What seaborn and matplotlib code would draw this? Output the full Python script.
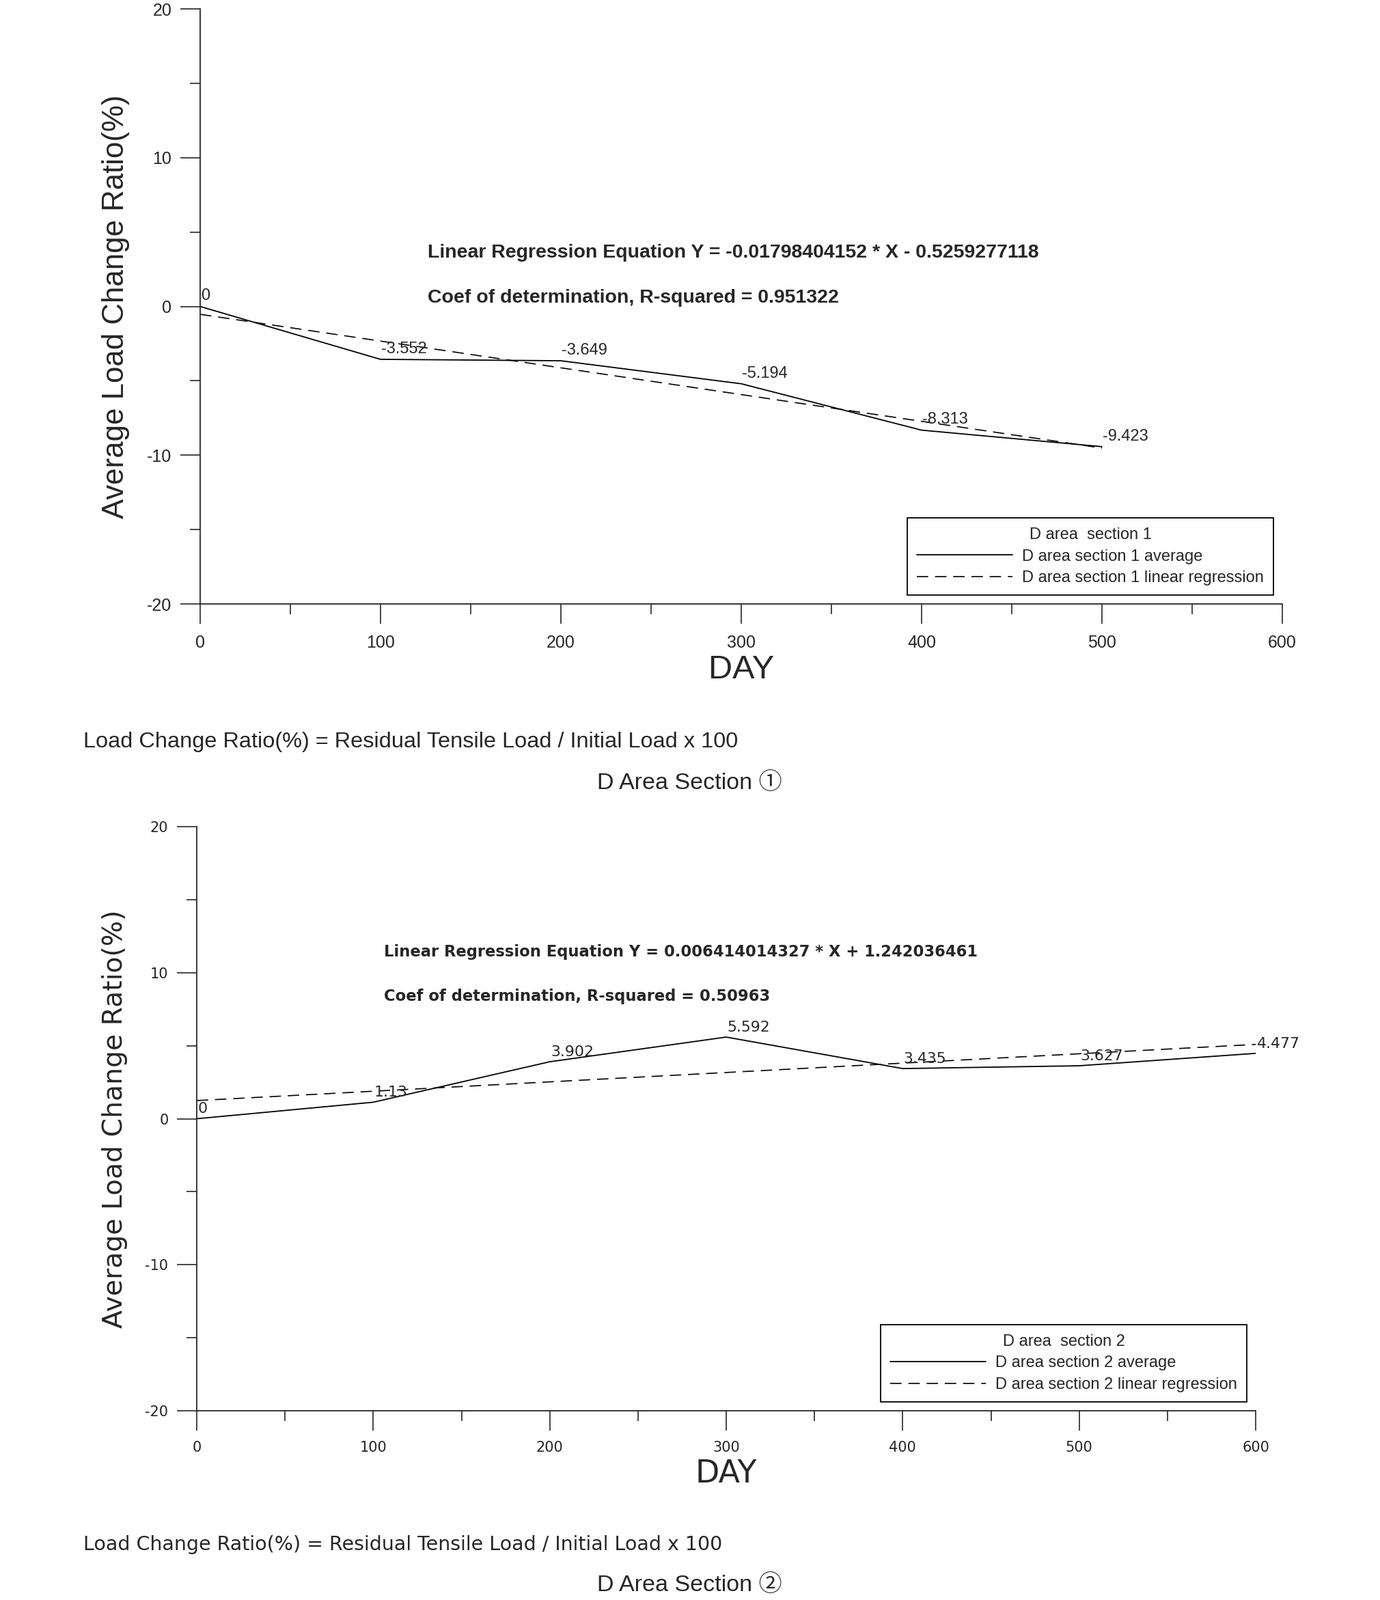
import seaborn as sns
import matplotlib.pyplot as plt
from matplotlib.ticker import MultipleLocator

# data
days_1 = [0, 100, 200, 300, 400, 500]
avg_1 = [0, -3.552, -3.649, -5.194, -8.313, -9.423]
days_2 = [0, 100, 200, 300, 400, 500, 600]
avg_2 = [0, 1.13, 3.902, 5.592, 3.435, 3.627, 4.477]

eq_1 = "Linear Regression Equation Y = -0.01798404152 * X - 0.5259277118"
r2_1 = "Coef of determination, R-squared = 0.951322"
eq_2 = "Linear Regression Equation Y = 0.006414014327 * X + 1.242036461"
r2_2 = "Coef of determination, R-squared = 0.50963"
note = "Load Change Ratio(%) = Residual Tensile Load / Initial Load x 100"

sns.set_style("ticks")
plt.rcParams['font.family'] = ['Liberation Sans', 'Noto Sans CJK KR', 'DejaVu Sans']
plt.rcParams['axes.unicode_minus'] = False

fig = plt.figure(figsize=(20.2, 23.42), dpi=100)


def draw(ax, days, avg, sec, eq, r2, eq_pos, fam, sizes):
    tick_fs, lab_fs, ylab_fs, day_fs, eq_fs = sizes
    sns.lineplot(x=days, y=avg, ax=ax, color='black', lw=1.3,
                 label=f"D area section {sec} average")
    sns.regplot(x=days, y=avg, ax=ax, scatter=False, ci=None, truncate=True,
                label=f"D area section {sec} linear regression",
                line_kws=dict(color='black', lw=1.2, ls=(0, (10, 6))))
    for d, v in zip(days, avg):
        ax.annotate(f"{v:g}", (d, v), xytext=(1, 3), textcoords='offset points',
                    ha='left', va='bottom', fontsize=lab_fs, family=fam)
    ax.set_xlim(0, 600)
    ax.set_ylim(-20, 20)
    ax.xaxis.set_major_locator(MultipleLocator(100))
    ax.xaxis.set_minor_locator(MultipleLocator(50))
    ax.yaxis.set_major_locator(MultipleLocator(10))
    ax.yaxis.set_minor_locator(MultipleLocator(5))
    ax.tick_params(which='major', length=21, width=1.2, labelsize=tick_fs, direction='out')
    ax.tick_params(which='minor', length=11, width=1.2, direction='out')
    ax.tick_params(axis='y', pad=9)
    ax.tick_params(axis='x', pad=11)
    for lab in ax.get_xticklabels() + ax.get_yticklabels():
        lab.set_family(fam)
    sns.despine(ax=ax)
    for s in ['left', 'bottom']:
        ax.spines[s].set_linewidth(1.3)
    ax.set_xlabel("DAY", fontsize=day_fs, family=fam, labelpad=4)
    ax.set_ylabel("Average Load Change Ratio(%)", fontsize=ylab_fs, labelpad=18, family=fam)
    ax.text(eq_pos[0], eq_pos[1], eq, transform=ax.transAxes, fontsize=eq_fs,
            fontweight='bold', family=fam, va='center')
    ax.text(eq_pos[0], eq_pos[1] - 0.075, r2, transform=ax.transAxes, fontsize=eq_fs,
            fontweight='bold', family=fam, va='center')
    leg = ax.legend(title=f"D area  section {sec}", loc='lower right',
                    title_fontsize=17, frameon=True, fancybox=False, framealpha=1,
                    edgecolor='black', handlelength=5.9, borderaxespad=0.55,
                    labelspacing=0.4, handletextpad=0.6, borderpad=0.6,
                    prop=dict(family='Liberation Sans', size=17))
    leg.get_frame().set_linewidth(1.3)
    leg.get_title().set_family('Liberation Sans')


ax1 = fig.add_axes([0.1450, 0.6225, 0.7842, 0.3719])
draw(ax1, days_1, avg_1, 1, eq_1, r2_1, (0.21, 0.59), 'Liberation Sans',
     (18, 17, 31.5, 35, 20.5))

ax2 = fig.add_axes([0.1426, 0.1183, 0.7673, 0.3650])
draw(ax2, days_2, avg_2, 2, eq_2, r2_2, (0.177, 0.785), 'DejaVu Sans',
     (15, 15.8, 28.3, 33, 16.3))

fig.text(122 / 2020, 1 - 1086 / 2342, note, fontsize=23.4, va='center',
         family=['Liberation Sans'])
fig.text(1009 / 2020, 1 - 1146 / 2342, "D Area Section \u2460", fontsize=24.5,
         va='center', ha='center')
fig.text(122 / 2020, 1 - 2261 / 2342, note, fontsize=20.5, va='center',
         family=['DejaVu Sans'])
fig.text(1009 / 2020, 1 - 2320 / 2342, "D Area Section \u2461", fontsize=24.5,
         va='center', ha='center')

fig.savefig("out.png", dpi=100, facecolor='white')
